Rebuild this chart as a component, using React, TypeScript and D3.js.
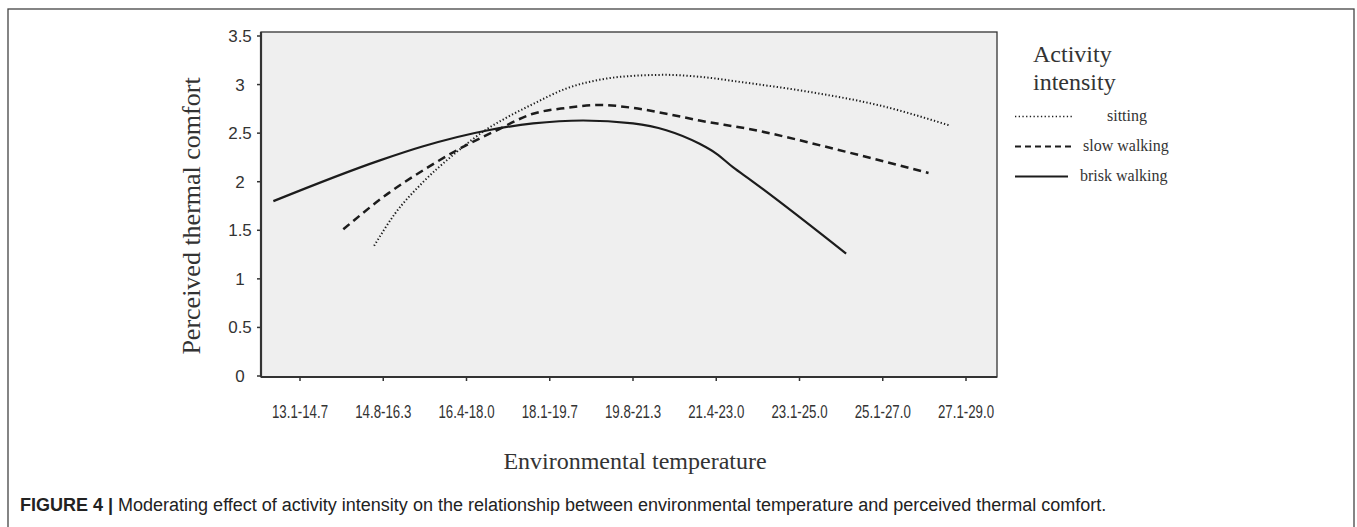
import React from "react";
import * as d3 from "d3";

const categories = [
  "13.1-14.7", "14.8-16.3", "16.4-18.0", "18.1-19.7", "19.8-21.3",
  "21.4-23.0", "23.1-25.0", "25.1-27.0", "27.1-29.0",
];
const yTicks = [0, 0.5, 1, 1.5, 2, 2.5, 3, 3.5];

// [category index position, perceived thermal comfort]
const sitting: [number, number][] = [
  [0.89, 1.34], [1.14, 1.67], [1.46, 1.98], [1.86, 2.29], [2.26, 2.55],
  [2.46, 2.65], [2.8, 2.8], [3.2, 2.96], [3.6, 3.05], [4.0, 3.09],
  [4.4, 3.1], [4.8, 3.08], [5.35, 3.02], [6.15, 2.92], [6.94, 2.79], [7.8, 2.58],
];
const slowWalking: [number, number][] = [
  [0.52, 1.51], [1.06, 1.88], [1.54, 2.15], [1.94, 2.35], [2.34, 2.52],
  [2.8, 2.7], [3.2, 2.76], [3.6, 2.79], [4.0, 2.76], [4.4, 2.7],
  [4.8, 2.63], [5.41, 2.54], [6.55, 2.31], [7.55, 2.09],
];
const briskWalking: [number, number][] = [
  [-0.32, 1.8], [0.96, 2.22], [1.46, 2.36], [2.26, 2.53], [2.8, 2.6],
  [3.4, 2.63], [4.0, 2.6], [4.4, 2.53], [4.8, 2.39], [5.0, 2.29],
  [5.2, 2.15], [5.41, 2.02], [6.56, 1.26],
];

const seriesNames = ["sitting", "slow walking", "brisk walking"];

const W = 1357;
const H = 527;
const plot = { left: 261, right: 997, top: 32, bottom: 377 };

export default function App() {
  const x = d3.scaleLinear().domain([0, 8]).range([300, 966]);
  const y = d3.scaleLinear().domain([0, 3.5]).range([376, 36]);
  const line = d3
    .line<[number, number]>()
    .x((d) => x(d[0]))
    .y((d) => y(d[1]))
    .curve(d3.curveMonotoneX);

  const ink = "#1c1c1c";
  const styles = [
    { data: sitting, width: 2, dash: "1.3 2.2" },
    { data: slowWalking, width: 2.5, dash: "8 5" },
    { data: briskWalking, width: 2.2, dash: "none" },
  ];
  const serif = "'Liberation Serif', 'Times New Roman', serif";
  const sans = "'Liberation Sans', Arial, sans-serif";

  return (
    <svg
      width={W}
      height={H}
      style={{ position: "absolute", left: 0, top: 0, background: "#fff" }}
    >
      <rect x={8} y={9} width={1346} height={560} fill="#fff" stroke="#444" strokeWidth={1.3} />

      <rect
        x={plot.left}
        y={plot.top}
        width={plot.right - plot.left}
        height={plot.bottom - plot.top}
        fill="#efefef"
        stroke="#333"
        strokeWidth={1.3}
      />
      <line x1={plot.left} x2={plot.left} y1={plot.top} y2={plot.bottom} stroke="#333" strokeWidth={2.2} />
      <line x1={plot.left} x2={plot.right} y1={plot.bottom} y2={plot.bottom} stroke="#333" strokeWidth={2.2} />

      {yTicks.map((t) => (
        <g key={t}>
          <line x1={257} x2={plot.left} y1={y(t)} y2={y(t)} stroke="#333" strokeWidth={1.5} />
          <text
            x={240}
            y={y(t) + 6}
            textAnchor="middle"
            fontFamily={sans}
            fontSize={17}
            fill="#333"
          >
            {t}
          </text>
        </g>
      ))}

      {categories.map((c, i) => (
        <g key={c}>
          <line x1={x(i)} x2={x(i)} y1={plot.bottom} y2={plot.bottom + 4} stroke="#333" strokeWidth={1.5} />
          <text
            x={x(i)}
            y={418}
            textAnchor="middle"
            fontFamily={sans}
            fontSize={18}
            fill="#333"
            textLength={56}
            lengthAdjust="spacingAndGlyphs"
          >
            {c}
          </text>
        </g>
      ))}

      {styles.map((s, i) => (
        <path
          key={i}
          d={line(s.data) || ""}
          fill="none"
          stroke={ink}
          strokeWidth={s.width}
          strokeDasharray={s.dash}
        />
      ))}

      <text
        transform="translate(200,216) rotate(-90)"
        textAnchor="middle"
        fontFamily={serif}
        fontSize={26}
        fill="#333"
      >
        Perceived thermal comfort
      </text>
      <text x={635} y={469} textAnchor="middle" fontFamily={serif} fontSize={24} fill="#333">
        Environmental temperature
      </text>

      <text x={1033} y={62} fontFamily={serif} fontSize={24} fill="#333">
        Activity
      </text>
      <text x={1033} y={90} fontFamily={serif} fontSize={24} fill="#333">
        intensity
      </text>
      {seriesNames.map((n, i) => (
        <g key={n}>
          <line
            x1={1015}
            x2={i === 2 ? 1068 : 1072}
            y1={116.5 + i * 30}
            y2={116.5 + i * 30}
            stroke={ink}
            strokeWidth={i === 0 ? 1.6 : 2.2}
            strokeDasharray={i === 0 ? "1.3 2.4" : i === 1 ? "6 4" : "none"}
          />
          <text
            x={i === 0 ? 1107 : i === 1 ? 1083 : 1080}
            y={121 + i * 30}
            fontFamily={serif}
            fontSize={16}
            fill="#333"
          >
            {n}
          </text>
        </g>
      ))}

      <text x={20} y={511} fontFamily={sans} fontSize={18} fill="#222">
        <tspan fontWeight="bold">FIGURE 4 |</tspan>
        <tspan> Moderating effect of activity intensity on the relationship between environmental temperature and perceived thermal comfort.</tspan>
      </text>
    </svg>
  );
}
